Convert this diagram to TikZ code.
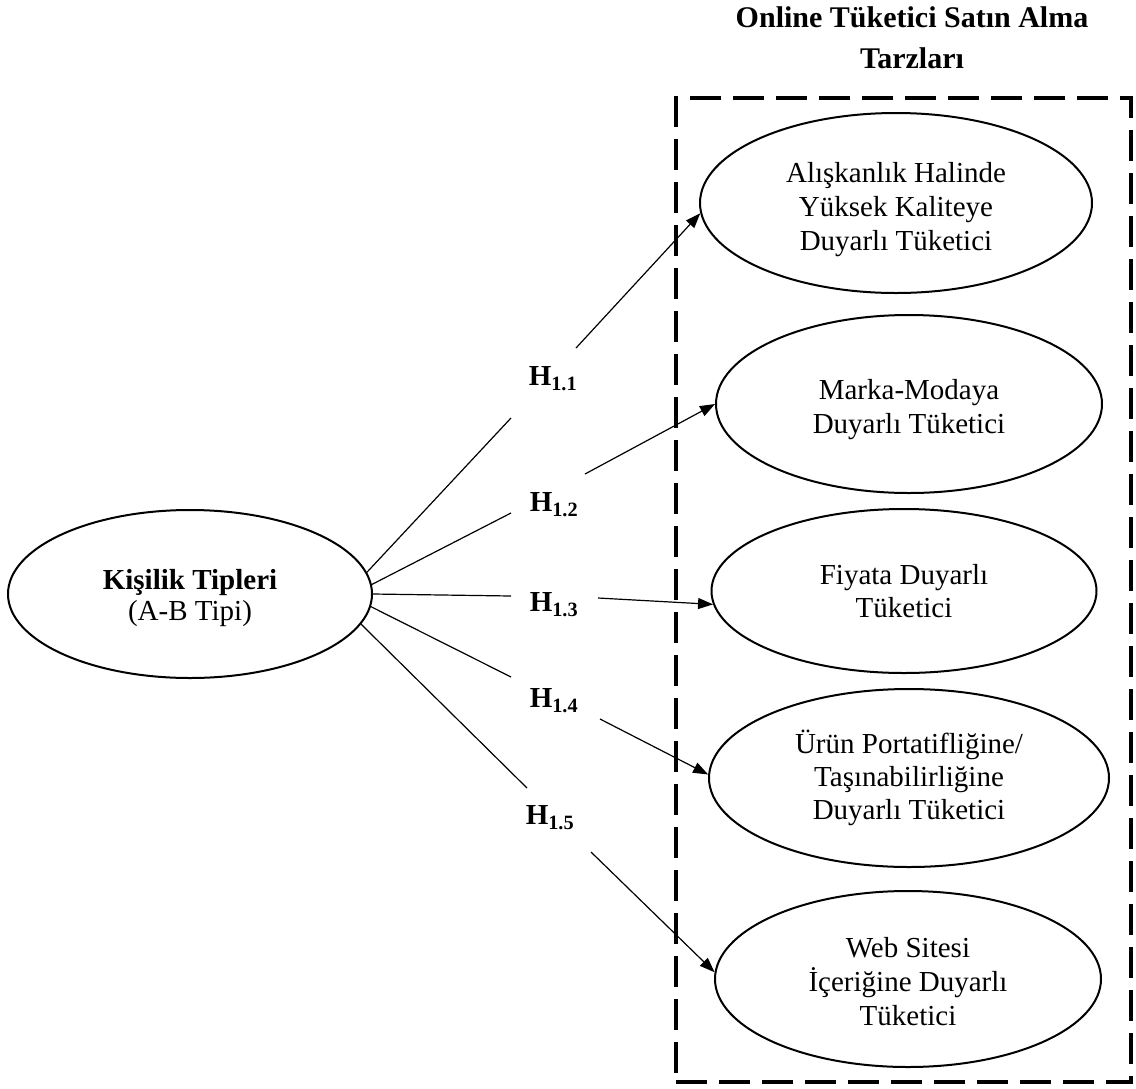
\documentclass[tikz,border=0pt]{standalone}
\usepackage{fontspec}
\setmainfont{Liberation Serif}
\usetikzlibrary{shapes.geometric,arrows.meta}
\begin{document}
\begin{tikzpicture}[x=1pt,y=-1pt,
  oval/.style={ellipse,draw,line width=2pt,inner sep=0pt,align=center,font=\fontsize{29}{34}\selectfont},
  hyp/.style={inner sep=0pt,font=\fontsize{29}{34}\selectfont\bfseries},
  link/.style={line width=1.2pt},
  arr/.style={line width=1.2pt,-{Triangle[length=15pt,width=11pt]}},
  frame/.style={draw,line width=4pt,dash pattern=on 31pt off 12pt,inner sep=0pt}]
\useasboundingbox (0,0) rectangle (1136,1088);

% group frame and title
\node[frame,minimum width=455pt,minimum height=984pt] (grp) at (903.5,590) {};
\node[inner sep=0pt,align=center,font=\fontsize{30}{41}\selectfont\bfseries,anchor=north] (title) at (912,6) {Online Tüketici Satın Alma\\Tarzları};

% source
\node[oval,font=\fontsize{29}{31}\selectfont,minimum width=364pt,minimum height=168pt] (kt) at (190,594) {\rule{0pt}{28pt}\textbf{Kişilik Tipleri}\\(A-B Tipi)};

% targets
\node[oval,minimum width=392pt,minimum height=180pt] (e1) at (896,203) {\rule{0pt}{34pt}Alışkanlık Halinde\\Yüksek Kaliteye\\Duyarlı Tüketici};
\node[oval,minimum width=386pt,minimum height=178pt] (e2) at (909,404) {\rule{0pt}{32pt}Marka-Modaya\\Duyarlı Tüketici};
\node[oval,font=\fontsize{29}{33}\selectfont,minimum width=385pt,minimum height=164pt] (e3) at (904,591) {Fiyata Duyarlı\\Tüketici};
\node[oval,font=\fontsize{29}{33}\selectfont,minimum width=400pt,minimum height=178pt] (e4) at (909,778) {Ürün Portatifliğine/\\Taşınabilirliğine\\Duyarlı Tüketici};
\node[oval,minimum width=386pt,minimum height=176pt] (e5) at (908,979) {\rule{0pt}{26pt}Web Sitesi\\İçeriğine Duyarlı\\Tüketici};

% hypothesis labels
\node[hyp] (h11) at (553,379) {H\textsubscript{1.1}};
\node[hyp] (h12) at (554,505) {H\textsubscript{1.2}};
\node[hyp] (h13) at (554,605) {H\textsubscript{1.3}};
\node[hyp] (h14) at (554,701) {H\textsubscript{1.4}};
\node[hyp] (h15) at (550,818) {H\textsubscript{1.5}};

% break points around labels
\coordinate (a11) at (511,418); \coordinate (b11) at (576,348);
\coordinate (a12) at (511,513); \coordinate (b12) at (585,474);
\coordinate (a13) at (511,596); \coordinate (b13) at (598,598);
\coordinate (a14) at (511,677); \coordinate (b14) at (600,719);
\coordinate (a15) at (527,788); \coordinate (b15) at (591,852);

% connectors
\draw[link] (kt.7) -- (a11);  \draw[arr] (b11) -- (e1.183);
\draw[link] (kt.3.5) -- (a12); \draw[arr] (b12) -- (e2.180);
\draw[link] (kt.0.6) -- (a13); \draw[arr] (b13) -- (e3.184);
\draw[link] (kt.-4) -- (a14); \draw[arr] (b14) -- (e4.179);
\draw[link] (kt.-10) -- (a15); \draw[arr] (b15) -- (e5.178);
\end{tikzpicture}
\end{document}
